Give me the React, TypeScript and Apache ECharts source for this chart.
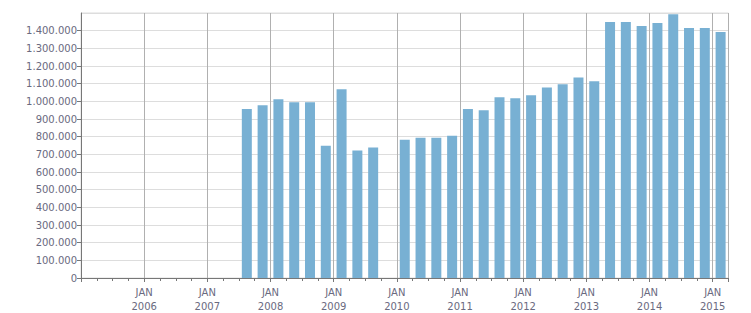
import React, { useEffect, useRef } from "react";
import * as echarts from "echarts";

const quarters: string[] = [
  "2007-Q3", "2007-Q4",
  "2008-Q1", "2008-Q2", "2008-Q3", "2008-Q4",
  "2009-Q1", "2009-Q2", "2009-Q3", "2009-Q4",
  "2010-Q1", "2010-Q2", "2010-Q3", "2010-Q4",
  "2011-Q1", "2011-Q2", "2011-Q3", "2011-Q4",
  "2012-Q1", "2012-Q2", "2012-Q3", "2012-Q4",
  "2013-Q1", "2013-Q2", "2013-Q3", "2013-Q4",
  "2014-Q1", "2014-Q2", "2014-Q3", "2014-Q4",
  "2015-Q1",
];

const values: (number | null)[] = [
  956000, 978000,
  1012000, 995000, 995000, 749000,
  1068000, 721000, 738000, null,
  782000, 794000, 794000, 805000,
  956000, 950000, 1023000, 1017000,
  1034000, 1079000, 1096000, 1135000,
  1113000, 1449000, 1449000, 1426000,
  1443000, 1493000, 1415000, 1415000,
  1393000,
];

const xStartYear = 2005;
const xEndYear = 2015.25;
const yMax = 1500000;

function quarterToYear(q: string): number {
  const [y, qq] = q.split("-Q");
  return Number(y) + (Number(qq) - 0.5) / 4;
}

function fmtThousands(v: number): string {
  return String(Math.round(v)).replace(/\B(?=(\d{3})+(?!\d))/g, ".");
}

export default function App() {
  const ref = useRef<HTMLDivElement>(null);
  useEffect(() => {
    if (!ref.current) return;
    const chart = echarts.init(ref.current, undefined, { renderer: "svg" });
    const data = quarters.map((q, i) => [quarterToYear(q), values[i]]);
    chart.setOption({
      animation: false,
      grid: { left: 81, right: 22.5, top: 13, bottom: 32.3, show: true, borderColor: "#dddddd", borderWidth: 1 },
      xAxis: {
        type: "value",
        min: xStartYear,
        max: xEndYear,
        interval: 1,
        axisLine: { show: true, onZero: false, lineStyle: { color: "#777777", width: 1 } },
        axisTick: { show: true, length: 4, lineStyle: { color: "#777777" } },
        minorTick: { show: true, splitNumber: 4, length: 3, lineStyle: { color: "#777777" } },
        splitLine: { show: true, lineStyle: { color: "#b0b0b0", width: 1 } },
        axisLabel: {
          color: "#6a6a80",
          fontFamily: "DejaVu Sans",
          fontSize: 10,
          lineHeight: 14,
          margin: 7,
          showMaxLabel: false,
          formatter: (v: number) => (v === xStartYear || v > 2015 ? "" : `JAN\n${v}`),
        },
      },
      yAxis: {
        type: "value",
        min: 0,
        max: yMax,
        interval: 100000,
        axisLine: { show: true, lineStyle: { color: "#777777", width: 1 } },
        axisTick: { show: true, length: 4, lineStyle: { color: "#777777" } },
        splitLine: { show: true, lineStyle: { color: "#dddddd", width: 1 } },
        axisLabel: {
          color: "#6a6a80",
          fontFamily: "DejaVu Sans",
          fontSize: 10,
          margin: 4,
          showMaxLabel: false,
          formatter: (v: number) => fmtThousands(v),
        },
      },
      series: [
        {
          type: "bar",
          data,
          barWidth: 10,
          itemStyle: { color: "#78b0d3" },
        },
      ],
    });
    return () => chart.dispose();
  }, []);
  return <div ref={ref} style={{ width: 751, height: 313, position: "absolute", left: 0, top: 0 }} />;
}
